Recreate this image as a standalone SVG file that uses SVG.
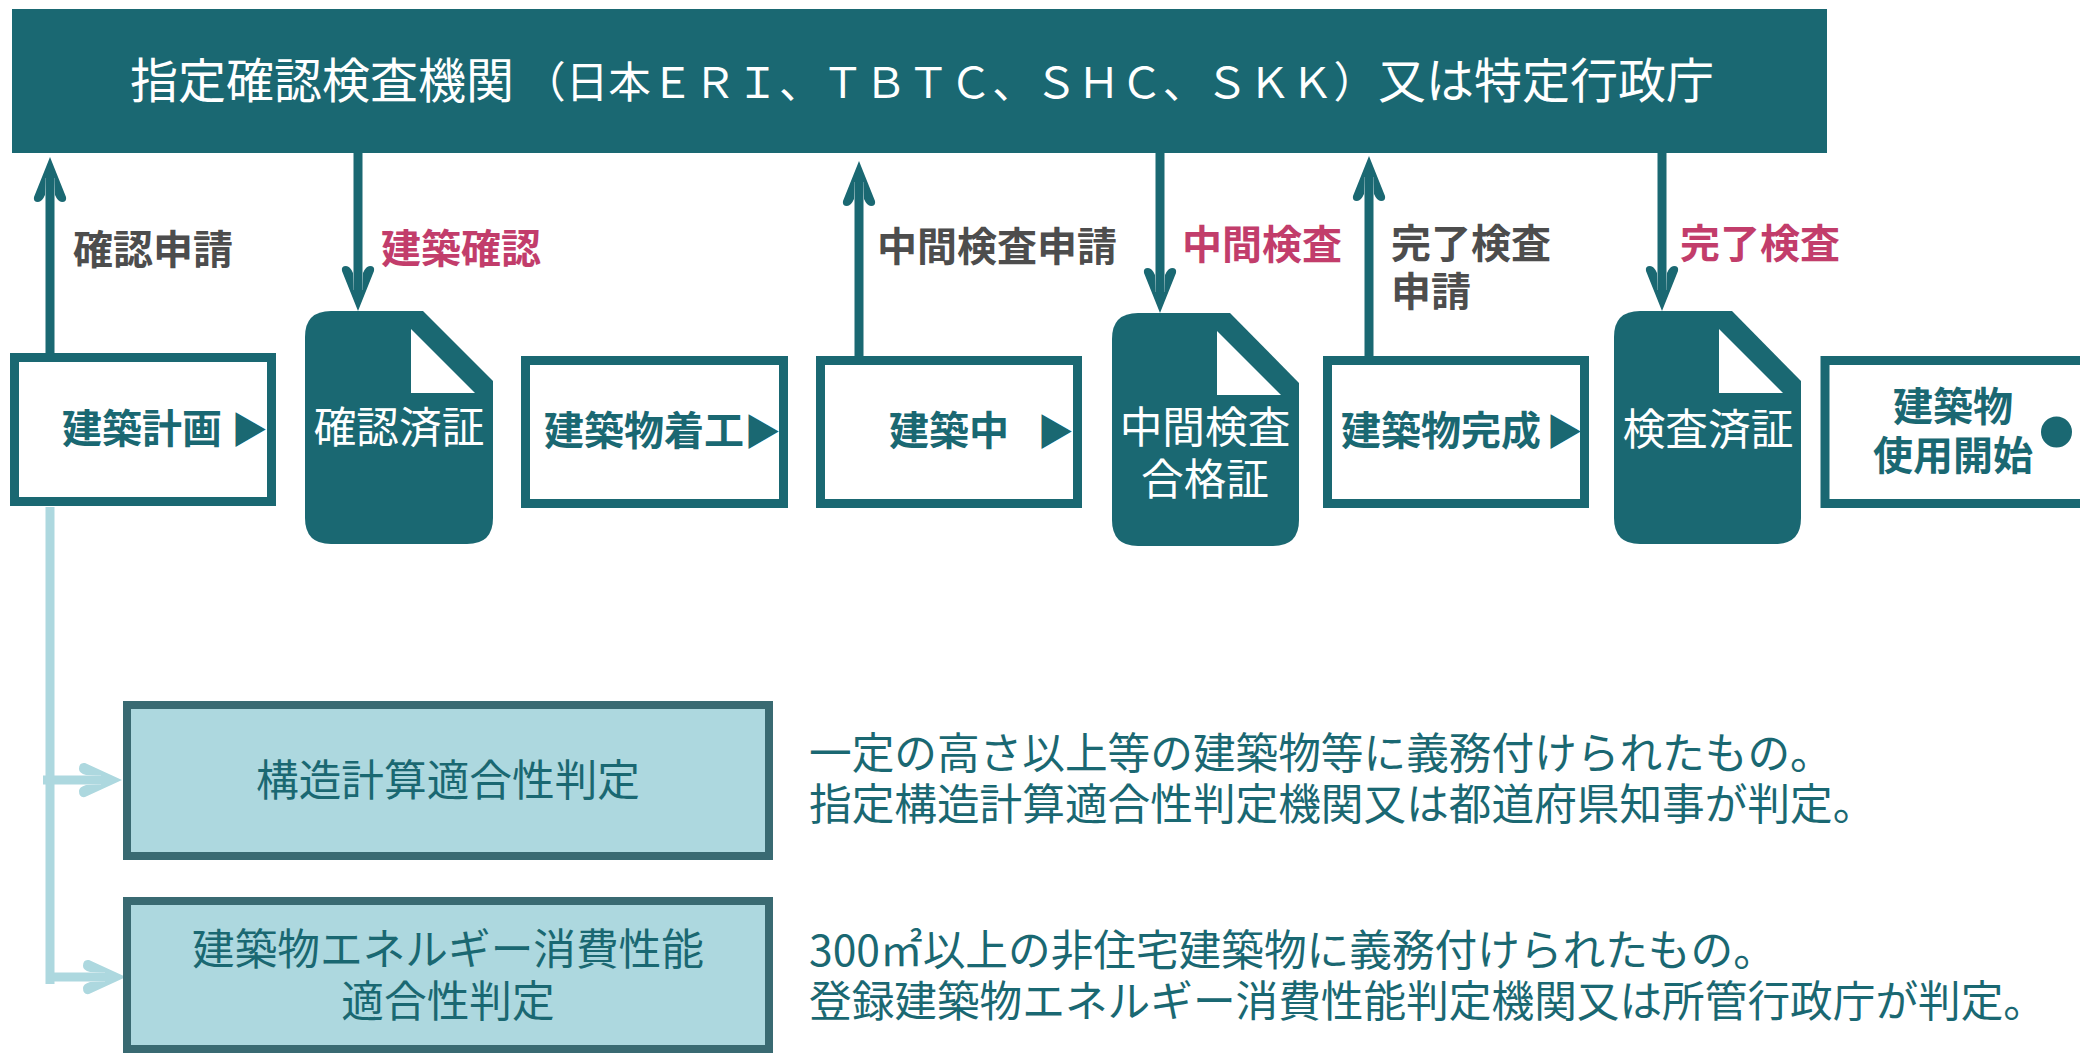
<svg xmlns="http://www.w3.org/2000/svg" width="2080" height="1053" viewBox="0 0 2080 1053">
<style>
text{font-family:"Noto Sans CJK JP","Noto Sans",sans-serif}
.b{font-size:40px;font-weight:700;fill:#1a6872}
.g{font-size:40px;font-weight:700;fill:#4d4d4d}
.p{font-size:40px;font-weight:700;fill:#c23d6b}
.w{font-size:42.67px;fill:#fff;text-anchor:middle}
.t{font-size:42.67px;fill:#1a6872}
.m{text-anchor:middle}
.box{fill:#fff;stroke:#1a6872;stroke-width:9}
.lb{fill:#add8df;stroke:#396a72;stroke-width:8}
.doc{fill:#1a6872}
.fold{fill:#fff}
.c{fill:none;stroke:#1a6872;stroke-width:9}
.l{fill:none;stroke:#add8df;stroke-width:9}
.sym{font-size:37px;fill:#1a6872}
</style>
<defs>
<marker id="ah" markerUnits="userSpaceOnUse" markerWidth="52" markerHeight="40" viewBox="0 -20 52 40" refX="25" refY="0" orient="auto">
<path d="M46,0 L6,-16 Q1,-17 1,-12 Q1,-8 8,-5 L25,-4.5 L25,4.5 L8,5 Q1,8 1,12 Q1,17 6,16 Z" fill="#1a6872"/>
</marker>
<marker id="al" markerUnits="userSpaceOnUse" markerWidth="52" markerHeight="40" viewBox="0 -20 52 40" refX="25" refY="0" orient="auto">
<path d="M46,0 L9,-17 Q3,-18 3,-11 Q3,-7 10,-5 L22,-4.5 L25,-4.5 L25,4.5 L22,4.5 L10,5 Q3,7 3,11 Q3,18 9,17 Z" fill="#add8df"/>
</marker>
</defs>
<g id="connectors">
<path class="c" d="M50,353V178" marker-end="url(#ah)"/>
<path class="c" d="M358,153V290" marker-end="url(#ah)"/>
<path class="c" d="M859,356V182" marker-end="url(#ah)"/>
<path class="c" d="M1160,153V292" marker-end="url(#ah)"/>
<path class="c" d="M1369,356V177" marker-end="url(#ah)"/>
<path class="c" d="M1662,153V290" marker-end="url(#ah)"/>
<path class="l" d="M50,507V984"/>
<path class="l" d="M43,780H101" marker-end="url(#al)"/>
<path class="l" d="M50,977H105" marker-end="url(#al)"/>
</g>
<g id="agency"><rect x="12" y="9" width="1815" height="144" fill="#1a6872"/>
<text y="98" font-size="48" fill="#fff"><tspan x="130">指定確認検査機関</tspan><tspan x="523" font-size="42.67">（日本ＥＲＩ、ＴＢＴＣ、ＳＨＣ、ＳＫＫ）</tspan><tspan x="1378">又は特定行政庁</tspan></text></g>
<g id="n1"><rect class="box" x="14.500" y="357.500" width="257" height="144"/><text class="b" x="62" y="443">建築計画</text><text class="sym" x="231" y="444">▶</text></g>
<g id="d1"><path class="doc" d="M331,311H423L493,381V518Q493,544 467,544H331Q305,544 305,518V337Q305,311 331,311Z"/><path class="fold" d="M411,329V393H475Z"/><text class="w" x="399" y="443">確認済証</text></g>
<g id="n2"><rect class="box" x="525.500" y="360.500" width="258" height="143"/><text class="b" x="544" y="445">建築物着工</text><text class="sym" x="744" y="446">▶</text></g>
<g id="n3"><rect class="box" x="820.500" y="360.500" width="257" height="143"/><text class="b" x="889" y="445">建築中</text><text class="sym" x="1037" y="446">▶</text></g>
<g id="d2"><path class="doc" d="M1138,313H1230L1299,383V520Q1299,546 1273,546H1138Q1112,546 1112,520V339Q1112,313 1138,313Z"/><path class="fold" d="M1217,331V395H1281Z"/><text class="w" x="1205" y="443">中間検査</text><text class="w" x="1205" y="495">合格証</text></g>
<g id="n4"><rect class="box" x="1327.500" y="360.500" width="257" height="143"/><text class="b" x="1341" y="445">建築物完成</text><text class="sym" x="1546" y="446">▶</text></g>
<g id="d3"><path class="doc" d="M1640,311H1732L1801,381V518Q1801,544 1775,544H1640Q1614,544 1614,518V337Q1614,311 1640,311Z"/><path class="fold" d="M1719,329V393H1783Z"/><text class="w" x="1708" y="445">検査済証</text></g>
<g id="n5"><rect class="box" x="1825" y="360.500" width="260" height="143"/><text class="b m" x="1953" y="421">建築物</text><text class="b m" x="1953" y="470">使用開始</text><circle cx="2056.500" cy="432" r="15.500" fill="#1a6872"/></g>
<g id="labels"><text class="g" x="73" y="264">確認申請</text><text class="p" x="381" y="263">建築確認</text><text class="g" x="877" y="261">中間検査申請</text><text class="p" x="1182" y="259">中間検査</text><text class="g" x="1391" y="258">完了検査</text><text class="g" x="1391" y="306">申請</text><text class="p" x="1680" y="258">完了検査</text></g>
<g id="j1"><rect class="lb" x="127" y="705" width="642" height="151"/><text class="t m" x="448" y="796">構造計算適合性判定</text></g>
<g id="j2"><rect class="lb" x="127" y="901" width="642" height="148"/><text class="t m" x="448" y="965">建築物エネルギー消費性能</text><text class="t m" x="448" y="1017">適合性判定</text></g>
<g id="notes"><text class="t" x="809" y="769">一定の高さ以上等の建築物等に義務付けられたもの。</text><text class="t" x="809" y="820">指定構造計算適合性判定機関又は都道府県知事が判定。</text><text class="t" x="809" y="966">300㎡以上の非住宅建築物に義務付けられたもの。</text><text class="t" x="809" y="1017">登録建築物エネルギー消費性能判定機関又は所管行政庁が判定。</text></g>
</svg>
